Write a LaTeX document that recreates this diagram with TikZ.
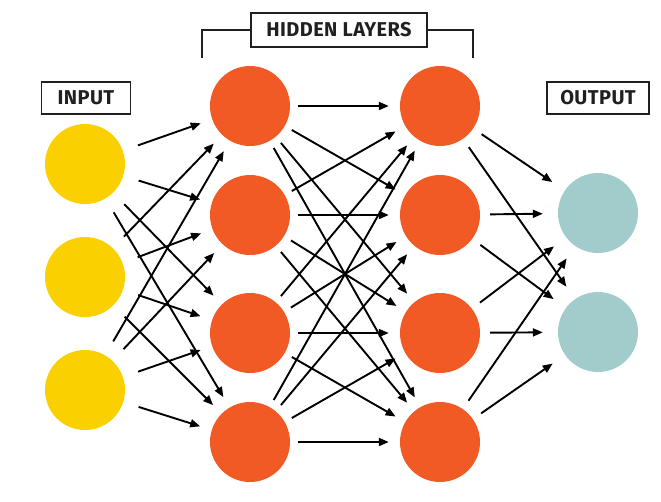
\documentclass[tikz,border=0pt]{standalone}
\usepackage{fontspec}
\setmainfont{Fira Sans}
\usetikzlibrary{arrows.meta}
\definecolor{inyellow}{HTML}{FBD000}
\definecolor{hidorange}{HTML}{F15A24}
\definecolor{outteal}{HTML}{A2CBCB}
\definecolor{ink}{HTML}{231F20}
\begin{document}
\begin{tikzpicture}[x=1pt,y=-1pt,
  neuron/.style={circle,minimum size=80pt,inner sep=0pt},
  inneuron/.style={neuron,fill=inyellow},
  hidneuron/.style={neuron,fill=hidorange},
  outneuron/.style={neuron,fill=outteal},
  labelbox/.style={draw=ink,line width=1.9pt,text=ink,font=\fontsize{20}{22}\selectfont\bfseries\addfontfeature{LetterSpace=2},inner sep=0pt,minimum height=32pt},
  conn/.style={draw=black,line width=1.9pt,-{Triangle[length=10pt,width=8pt]}},
  bracket/.style={draw=ink,line width=1.9pt}
]
\useasboundingbox (0,0) rectangle (661,501);
% labels
\node[labelbox,minimum width=89pt] (inlab) at (86,98) {INPUT};
\node[labelbox,minimum width=102pt] (outlab) at (598,98) {OUTPUT};
\node[labelbox,minimum width=176pt,minimum height=34pt] (hidlab) at (339,30) {HIDDEN LAYERS};
\coordinate (bl) at (202,58);
\coordinate (br) at (473,58);
\draw[bracket] (hidlab.west) -| (bl);
\draw[bracket] (hidlab.east) -| (br);
% neurons
\node[inneuron] (i1) at (85,164) {};
\node[inneuron] (i2) at (85,277) {};
\node[inneuron] (i3) at (85,390) {};
\node[hidneuron] (a1) at (250,106) {};
\node[hidneuron] (a2) at (250,215) {};
\node[hidneuron] (a3) at (250,333) {};
\node[hidneuron] (a4) at (250,442) {};
\node[hidneuron] (b1) at (440,106) {};
\node[hidneuron] (b2) at (440,215) {};
\node[hidneuron] (b3) at (440,333) {};
\node[hidneuron] (b4) at (440,442) {};
\node[outneuron] (o1) at (598,213) {};
\node[outneuron] (o2) at (598,332) {};
% connections
\foreach \s in {i1,i2,i3}
  \foreach \t in {a1,a2,a3,a4}
    \draw[conn,shorten <=16pt,shorten >=12pt] (\s) -- (\t);
\foreach \s in {a1,a2,a3,a4}
  \foreach \t in {b1,b2,b3,b4}
    \draw[conn,shorten <=8pt,shorten >=11pt] (\s) -- (\t);
\foreach \s in {b1,b2,b3,b4}
  \foreach \t in {o1,o2}
    \draw[conn,shorten <=10pt,shorten >=15pt] (\s) -- (\t);
\end{tikzpicture}
\end{document}
